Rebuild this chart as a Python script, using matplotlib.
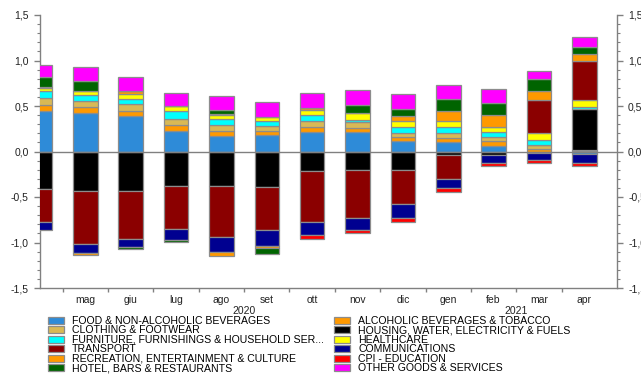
import numpy as np
import matplotlib
matplotlib.use("Agg")
import matplotlib.pyplot as plt
from matplotlib.ticker import FuncFormatter, MultipleLocator, FixedLocator
from matplotlib.patches import Patch
import matplotlib.transforms as mtransforms

plt.rcParams['font.family'] = ['Liberation Sans', 'DejaVu Sans']

months = ['apr', 'mag', 'giu', 'lug', 'ago', 'set', 'ott', 'nov', 'dic', 'gen', 'feb', 'mar', 'apr']
month_labels = ['', 'mag', 'giu', 'lug', 'ago', 'set', 'ott', 'nov', 'dic', 'gen', 'feb', 'mar', 'apr']
years = ['2020', '2021']

#                apr    mag    giu    lug    ago    set    ott    nov    dic    gen    feb    mar    apr
food       = [0.45,  0.42,  0.39,  0.23,  0.17,  0.18,  0.21,  0.21,  0.12,  0.10,  0.06, -0.02, -0.025]
alcohol    = [0.06,  0.07,  0.06,  0.06,  0.05,  0.05,  0.06,  0.05,  0.04,  0.05,  0.06,  0.03,  0.01]
clothing   = [0.08,  0.06,  0.07,  0.07,  0.07,  0.05,  0.06,  0.06,  0.04,  0.05,  0.04,  0.04,  0.01]
housing    = [-0.41, -0.43, -0.43, -0.38, -0.38, -0.39, -0.21, -0.20, -0.20, -0.04, -0.04, 0.00,  0.45]
furniture  = [0.08,  0.07,  0.06,  0.09,  0.07,  0.05,  0.07,  0.03,  0.07,  0.07,  0.05,  0.06,  0.02]
health     = [0.03,  0.04,  0.05,  0.05,  0.04,  0.05,  0.06,  0.07,  0.07,  0.06,  0.06,  0.07,  0.08]
transport  = [-0.36, -0.59, -0.53, -0.47, -0.56, -0.47, -0.56, -0.53, -0.38, -0.26, 0.00,  0.37,  0.42]
comms      = [-0.09, -0.10, -0.09, -0.12, -0.16, -0.18, -0.15, -0.13, -0.15, -0.10, -0.09, -0.07, -0.10]
recreation = [0.00, -0.02,  0.04,  0.00, -0.05, -0.02,  0.02,  0.00,  0.05,  0.12,  0.13,  0.09,  0.08]
education  = [0.01,  0.00,  0.00,  0.00,  0.01,  0.00, -0.04, -0.04, -0.04, -0.04, -0.03, -0.035, -0.035]
hotel      = [0.11,  0.12, -0.02, -0.02,  0.05, -0.07,  0.00,  0.09,  0.08,  0.13,  0.13,  0.14,  0.08]
other      = [0.13,  0.15,  0.15,  0.14,  0.15,  0.16,  0.16,  0.17,  0.16,  0.15,  0.16,  0.09,  0.11]

series_names = [
    'FOOD & NON-ALCOHOLIC BEVERAGES',
    'ALCOHOLIC BEVERAGES & TOBACCO',
    'CLOTHING & FOOTWEAR',
    'HOUSING, WATER, ELECTRICITY & FUELS',
    'FURNITURE, FURNISHINGS & HOUSEHOLD SER...',
    'HEALTHCARE',
    'TRANSPORT',
    'COMMUNICATIONS',
    'RECREATION, ENTERTAINMENT & CULTURE',
    'CPI - EDUCATION',
    'HOTEL, BARS & RESTAURANTS',
    'OTHER GOODS & SERVICES',
]
series_values = [food, alcohol, clothing, housing, furniture, health,
                 transport, comms, recreation, education, hotel, other]
series_colors = ['#2E8BD8', '#FF9900', '#D9B955', '#000000', '#00FFFF', '#FFFF00',
                 '#8B0000', '#000090', '#FF9900', '#FF0000', '#006400', '#FF00FF']

fig = plt.figure(figsize=(6.41, 3.74), dpi=100)
ax = fig.add_axes([40 / 641, 1 - 288 / 374, 577 / 641, 273 / 374])

x = np.arange(len(months))
pos_base = np.zeros(len(months))
neg_base = np.zeros(len(months))
handles = []
for name, vals, col in zip(series_names, series_values, series_colors):
    v = np.array(vals, dtype=float)
    bottoms = np.where(v >= 0, pos_base, neg_base)
    ax.bar(x, v, width=0.54, bottom=bottoms, color=col, edgecolor='#8c8c8c',
           linewidth=0.9, zorder=3, clip_on=True)
    pos_base = pos_base + np.where(v > 0, v, 0)
    neg_base = neg_base + np.where(v < 0, v, 0)
    handles.append(Patch(facecolor=col, edgecolor='#8c8c8c', linewidth=0.9, label=name))

ax.axhline(0, color='#808080', linewidth=1.0, zorder=4)

ax.set_xlim(0.174, 12.72)
ax.set_ylim(-1.5, 1.5)

gray = '#808080'
ax.spines['top'].set_visible(False)
for s in ['left', 'right', 'bottom']:
    ax.spines[s].set_color(gray)
    ax.spines[s].set_linewidth(1.0)

ax.yaxis.set_major_locator(MultipleLocator(0.5))
ax.yaxis.set_minor_locator(MultipleLocator(0.1))
ax.yaxis.set_major_formatter(FuncFormatter(lambda v, p: f'{v:.1f}'.replace('.', ',')))
ax.tick_params(axis='y', which='both', left=True, right=True, labelleft=True, labelright=True,
               direction='out', color=gray, labelsize=7.5, labelcolor='#222222')
ax.tick_params(axis='y', which='major', length=4, width=1, pad=4)
ax.tick_params(axis='y', which='minor', length=2.5, width=0.8)

ax.set_xticks(x)
ax.set_xticklabels(month_labels)
ax.xaxis.set_minor_locator(FixedLocator(x[:-1] + 0.5))
ax.tick_params(axis='x', which='major', length=0, pad=5, labelsize=7.5, labelcolor='#222222')
ax.tick_params(axis='x', which='minor', length=3, width=1, color=gray, direction='out')

trans = mtransforms.blended_transform_factory(ax.transData, ax.transAxes)
ax.text(4.5, -23 / 273, years[0], transform=trans, ha='center', va='center',
        fontsize=7.5, color='#222222')
ax.text(10.5, -23 / 273, years[1], transform=trans, ha='center', va='center',
        fontsize=7.5, color='#222222')

order = [0, 2, 4, 6, 8, 10, 1, 3, 5, 7, 9, 11]
fig.legend([handles[i] for i in order], [series_names[i] for i in order],
           ncol=2, loc='upper left', bbox_to_anchor=(47.5 / 641, 1 - 316 / 374),
           frameon=False, fontsize=7.6, handlelength=1.56, handleheight=0.6,
           handletextpad=0.76, labelspacing=-0.05, columnspacing=0.95,
           borderpad=0, borderaxespad=0)

fig.savefig('out.png', dpi=100)
